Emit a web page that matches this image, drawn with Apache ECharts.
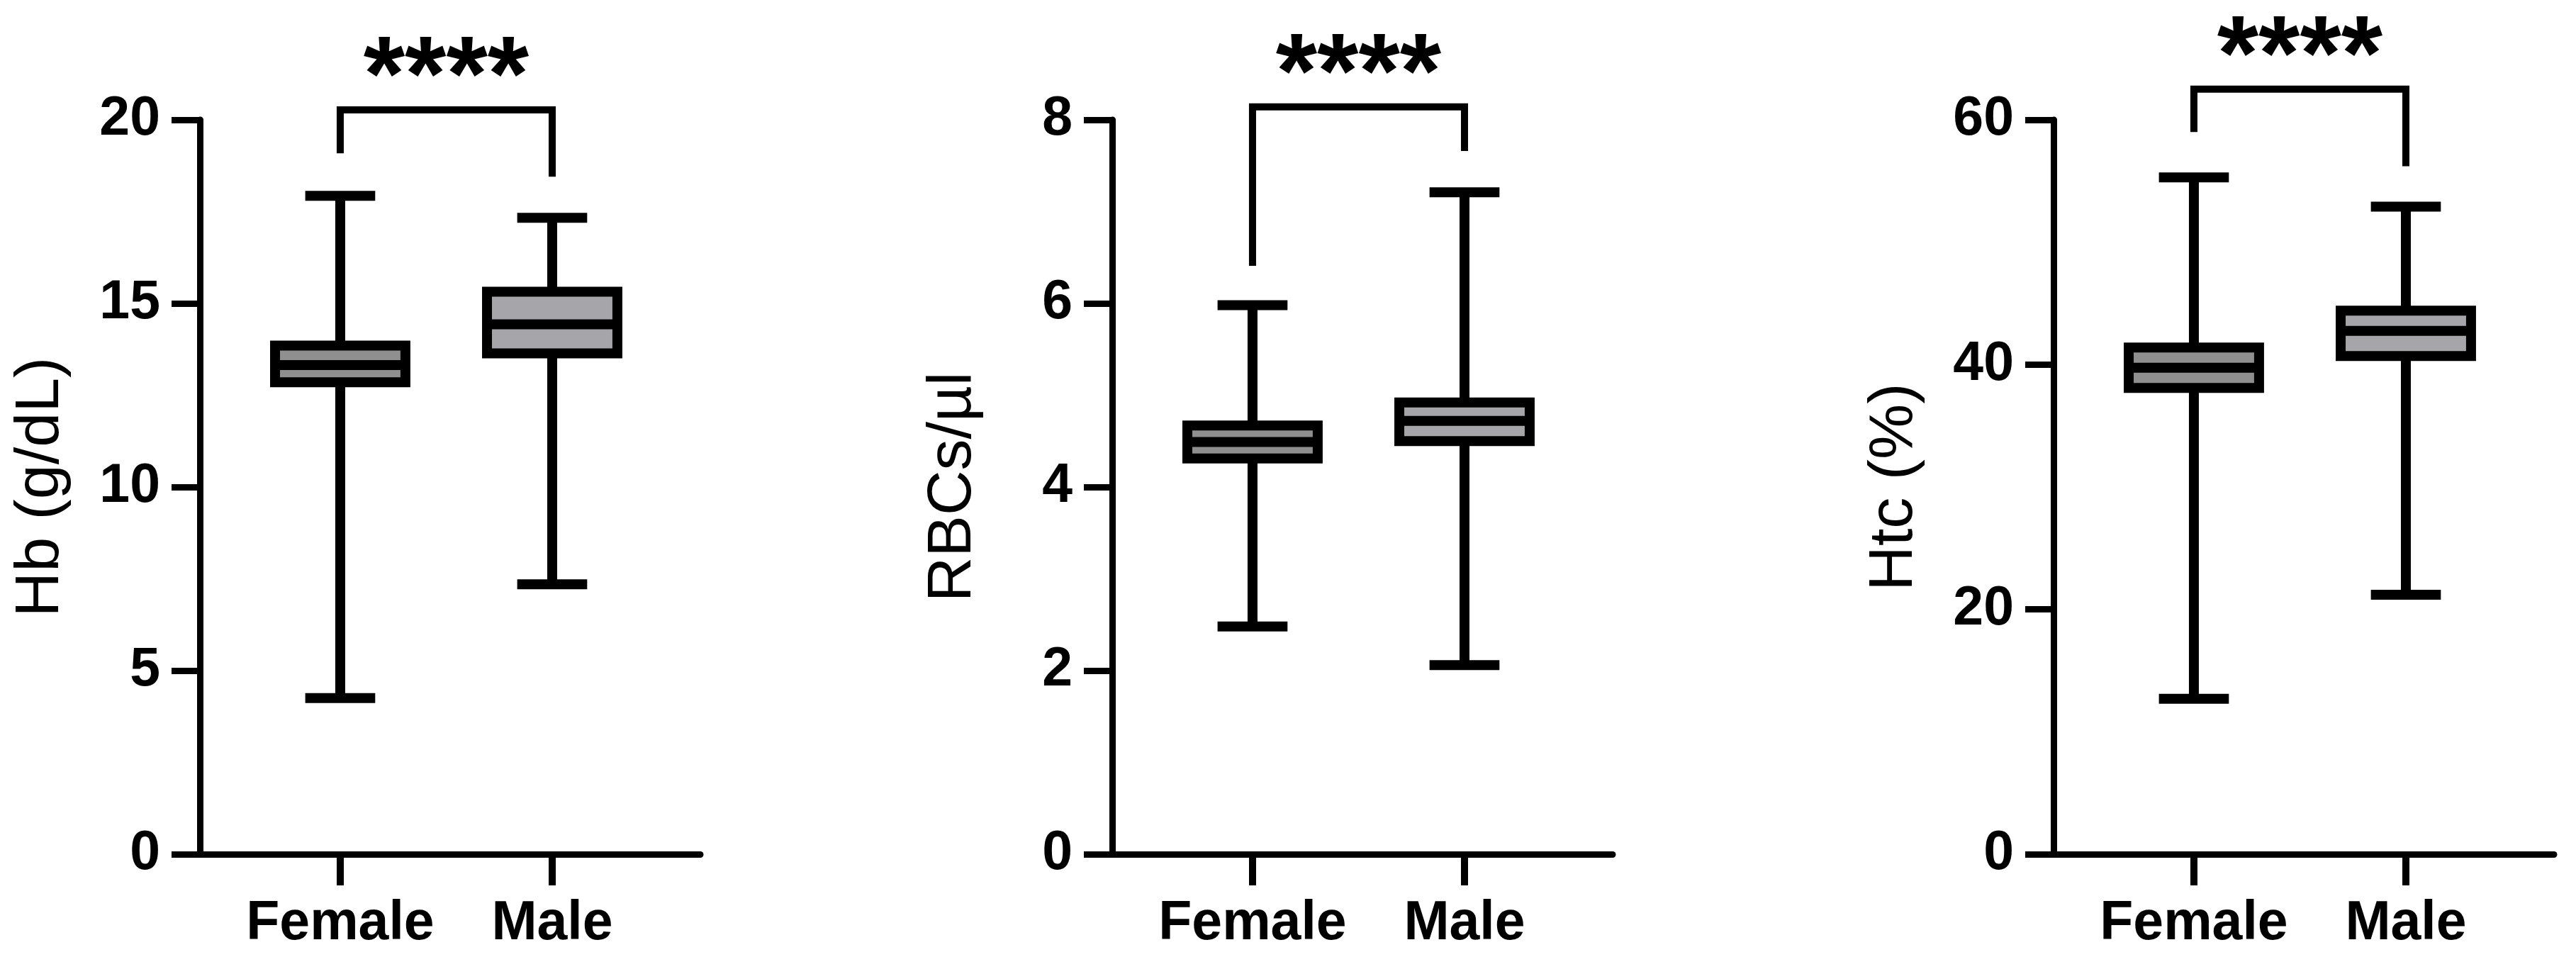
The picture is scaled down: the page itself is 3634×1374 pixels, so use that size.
<!DOCTYPE html>
<html>
<head>
<meta charset="utf-8">
<script src="https://cdn.jsdelivr.net/npm/echarts@6/dist/echarts.min.js"></script>
<style>
  html, body { margin: 0; padding: 0; background: #fff; }
  #chart { width: 3634px; height: 1374px; }
</style>
</head>
<body>
<div id="chart"></div>
<script>
const groups = ['Female', 'Male']
const groupX = [0, 1]

// box values: [min, Q1, median, Q3, max]
const hbFemale = [4.25, 12.85, 13.32, 13.85, 17.93]
const hbMale = [7.35, 13.64, 14.43, 15.32, 17.33]
const rbcFemale = [2.48, 4.31, 4.49, 4.67, 5.98]
const rbcMale = [2.06, 4.50, 4.72, 4.92, 7.21]
const htcFemale = [12.7, 38.1, 39.75, 41.4, 55.3]
const htcMale = [21.2, 40.7, 42.75, 44.4, 52.9]

// significance bracket: [top, left leg end, right leg end]
const hbBracket = [20.27, 19.09, 18.45]
const rbcBracket = [8.14, 6.41, 7.66]
const htcBracket = [62.5, 59.0, 56.2]
const sigLabel = '****'

const yTitles = ['Hb (g/dL)', 'RBCs/\u00b5l', 'Htc (%)']
const yMax = [20, 8, 60]
const yStep = [5, 2, 20]

const panels = [
  { boxes: [hbFemale, hbMale], bracket: hbBracket },
  { boxes: [rbcFemale, rbcMale], bracket: rbcBracket },
  { boxes: [htcFemale, htcMale], bracket: htcBracket }
]

// layout / style
const gridLeft = [282, 1569, 2897]
const fills = ['#8f8f8f', '#a6a6aa']
const FONT = "'Liberation Sans', Arial, Helvetica, sans-serif"
const boxW = 0.615   // in x units (one unit = distance between groups)
const capW = 0.33

function renderBox(params, api) {
  const x = api.value(0)
  const unit = api.size([1, 0])[0]
  const half = unit * boxW / 2
  const capHalf = unit * capW / 2
  const pMin = api.coord([x, api.value(1)])
  const pQ1 = api.coord([x, api.value(2)])
  const pMed = api.coord([x, api.value(3)])
  const pQ3 = api.coord([x, api.value(4)])
  const pMax = api.coord([x, api.value(5)])
  const line = { stroke: '#000', lineWidth: 14 }
  return {
    type: 'group',
    children: [
      { type: 'line', shape: { x1: pMin[0], y1: pMin[1], x2: pMax[0], y2: pMax[1] }, style: line },
      { type: 'line', shape: { x1: pMin[0] - capHalf, y1: pMin[1], x2: pMin[0] + capHalf, y2: pMin[1] }, style: line },
      { type: 'line', shape: { x1: pMax[0] - capHalf, y1: pMax[1], x2: pMax[0] + capHalf, y2: pMax[1] }, style: line },
      {
        type: 'rect',
        shape: { x: pQ3[0] - half, y: pQ3[1], width: half * 2, height: pQ1[1] - pQ3[1] },
        style: { fill: fills[params.dataIndex], stroke: '#000', lineWidth: 14 }
      },
      { type: 'line', shape: { x1: pMed[0] - half, y1: pMed[1], x2: pMed[0] + half, y2: pMed[1] }, style: line }
    ]
  }
}

function renderBracket(params, api) {
  const xl = api.value(0)
  const xr = api.value(1)
  const a = api.coord([xl, api.value(3)])
  const b = api.coord([xl, api.value(2)])
  const c = api.coord([xr, api.value(2)])
  const d = api.coord([xr, api.value(4)])
  return {
    type: 'group',
    children: [
      {
        type: 'polyline',
        shape: { points: [a, b, c, d] },
        style: { stroke: '#000', lineWidth: 10, fill: null, lineJoin: 'miter' }
      },
      {
        type: 'text',
        x: (b[0] + c[0]) / 2,
        y: b[1] - 40,
        style: {
          text: sigLabel, fill: '#000', font: 'bold 150px ' + FONT,
          align: 'center', verticalAlign: 'middle'
        }
      }
    ]
  }
}

const grid = []
const xAxis = []
const yAxis = []
const series = []

panels.forEach((p, i) => {
  grid.push({ left: gridLeft[i], top: 169, width: 706, height: 1036 })
  xAxis.push({
    gridIndex: i,
    type: 'value',
    min: -0.662,
    max: 1.699,
    splitLine: { show: false },
    axisLine: { show: true, onZero: false, lineStyle: { color: '#000', width: 9 } },
    axisTick: { show: true, customValues: groupX, length: 44, lineStyle: { color: '#000', width: 10 } },
    axisLabel: {
      customValues: groupX,
      formatter: v => groups[Math.round(v)] || '',
      color: '#000', fontFamily: FONT, fontWeight: 'bold', fontSize: 77, margin: 60
    }
  })
  yAxis.push({
    gridIndex: i,
    type: 'value',
    min: 0,
    max: yMax[i],
    interval: yStep[i],
    name: yTitles[i],
    nameLocation: 'middle',
    nameGap: 180,
    nameTextStyle: { color: '#000', fontFamily: FONT, fontSize: 88, fontWeight: 'normal' },
    splitLine: { show: false },
    axisLine: { show: true, onZero: false, lineStyle: { color: '#000', width: 9 } },
    axisTick: { show: true, length: 40, lineStyle: { color: '#000', width: 9 } },
    axisLabel: { color: '#000', fontFamily: FONT, fontWeight: 'bold', fontSize: 77, margin: 56 }
  })
  series.push({
    type: 'custom',
    xAxisIndex: i,
    yAxisIndex: i,
    renderItem: renderBox,
    encode: { x: 0, y: [1, 2, 3, 4, 5] },
    data: p.boxes.map((b, k) => [groupX[k]].concat(b)),
    clip: false,
    silent: true
  })
  series.push({
    type: 'custom',
    xAxisIndex: i,
    yAxisIndex: i,
    renderItem: renderBracket,
    encode: { x: [0, 1], y: [2, 3, 4] },
    data: [[groupX[0], groupX[1]].concat(p.bracket)],
    clip: false,
    silent: true
  })
})

const chart = echarts.init(document.getElementById('chart'), null, { renderer: 'canvas' })
chart.setOption({
  backgroundColor: '#fff',
  animation: false,
  grid: grid,
  xAxis: xAxis,
  yAxis: yAxis,
  series: series
})
</script>
</body>
</html>
